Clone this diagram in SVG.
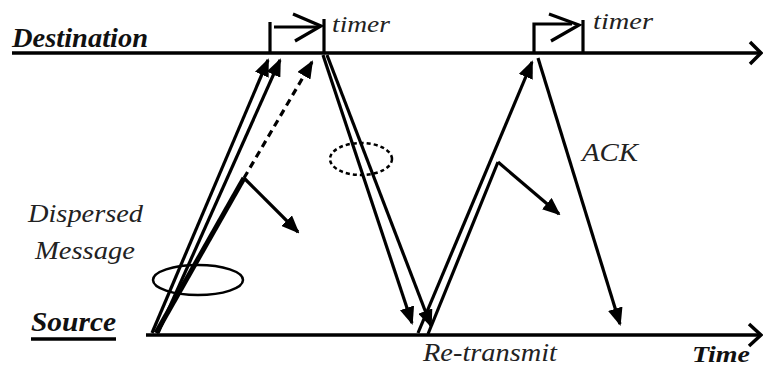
<svg xmlns="http://www.w3.org/2000/svg" width="763" height="368" viewBox="0 0 763 368">
<style>
.ln{stroke:#000;stroke-width:3.2;fill:none}
.thick{stroke:#000;stroke-width:5;fill:none}
.axis{stroke:#000;stroke-width:3.5;fill:none}
.dash{stroke:#000;stroke-width:3.2;fill:none;stroke-dasharray:7 5}
.t{font-family:"Liberation Serif","Times New Roman",serif;font-style:italic;fill:#222}
.b{font-weight:bold;fill:#111}
</style>
<defs>
<marker id="ah" markerUnits="userSpaceOnUse" markerWidth="18" markerHeight="15" refX="16" refY="7.5" orient="auto">
<path d="M0,0 L18,7.5 L0,15 z" fill="#000"/>
</marker>
</defs>
<rect width="763" height="368" fill="#fff"/>
<g id="axes">
<line class="axis" x1="12" y1="53" x2="760" y2="53"/>
<polyline class="axis" stroke-width="4" points="750,42 761,53 750,64"/>
<line class="axis" x1="146" y1="335" x2="760" y2="335"/>
<polyline class="axis" stroke-width="4" points="749,324 761,335 749,346"/>
<line class="axis" x1="31" y1="339" x2="116" y2="339"/>
</g>
<g id="timer1">
<line class="ln" x1="270" y1="22" x2="270" y2="53"/>
<line class="ln" x1="324" y1="19" x2="324" y2="53"/>
<line class="ln" x1="274" y1="27" x2="318" y2="27"/>
<polyline class="ln" stroke-width="4" points="293,14 321,26 295,41"/>
</g>
<g id="timer2">
<polyline class="ln" points="534,53 534,24 572,24"/>
<line class="ln" x1="583" y1="20" x2="583" y2="53"/>
<polyline class="ln" stroke-width="4" points="549,14 579,25 551,41"/>
</g>
<g id="connectors">
<line class="ln" x1="152" y1="333" x2="268" y2="60" marker-end="url(#ah)"/>
<line class="ln" x1="158" y1="333" x2="280" y2="60" marker-end="url(#ah)"/>
<line class="thick" x1="156" y1="333" x2="244" y2="178"/>
<line class="dash" x1="244" y1="178" x2="312" y2="62" marker-end="url(#ah)"/>
<line class="ln" x1="244" y1="178" x2="298" y2="232" marker-end="url(#ah)"/>
<ellipse cx="198" cy="280" rx="45" ry="15" fill="none" stroke="#000" stroke-width="2.5"/>
<line class="ln" x1="323" y1="55" x2="412" y2="323" marker-end="url(#ah)"/>
<line class="ln" x1="327" y1="55" x2="431" y2="326" marker-end="url(#ah)"/>
<ellipse cx="361" cy="159" rx="31" ry="16" fill="none" stroke="#000" stroke-width="2.5" stroke-dasharray="4 3"/>
<line class="ln" x1="418" y1="333" x2="532" y2="62" marker-end="url(#ah)"/>
<line class="ln" x1="428" y1="334" x2="498" y2="162"/>
<line class="ln" x1="498" y1="162" x2="559" y2="214" marker-end="url(#ah)"/>
<line class="ln" x1="538" y1="58" x2="620" y2="324" marker-end="url(#ah)"/>
</g>
<g id="labels">
<text class="t b" x="12" y="47" font-size="27" textLength="136" lengthAdjust="spacingAndGlyphs">Destination</text>
<text class="t b" x="31" y="331" font-size="27" textLength="85" lengthAdjust="spacingAndGlyphs">Source</text>
<text class="t" x="332" y="32" font-size="24" textLength="58" lengthAdjust="spacingAndGlyphs">timer</text>
<text class="t" x="593" y="29" font-size="24" textLength="60" lengthAdjust="spacingAndGlyphs">timer</text>
<text class="t" x="582" y="161" font-size="26" textLength="56" lengthAdjust="spacingAndGlyphs">ACK</text>
<text class="t" x="28" y="222" font-size="26" textLength="115" lengthAdjust="spacingAndGlyphs">Dispersed</text>
<text class="t" x="35" y="259" font-size="26" textLength="100" lengthAdjust="spacingAndGlyphs">Message</text>
<text class="t" x="423" y="361" font-size="25" textLength="134" lengthAdjust="spacingAndGlyphs">Re-transmit</text>
<text class="t b" x="692" y="362" font-size="24" textLength="58" lengthAdjust="spacingAndGlyphs">Time</text>
</g>
</svg>
